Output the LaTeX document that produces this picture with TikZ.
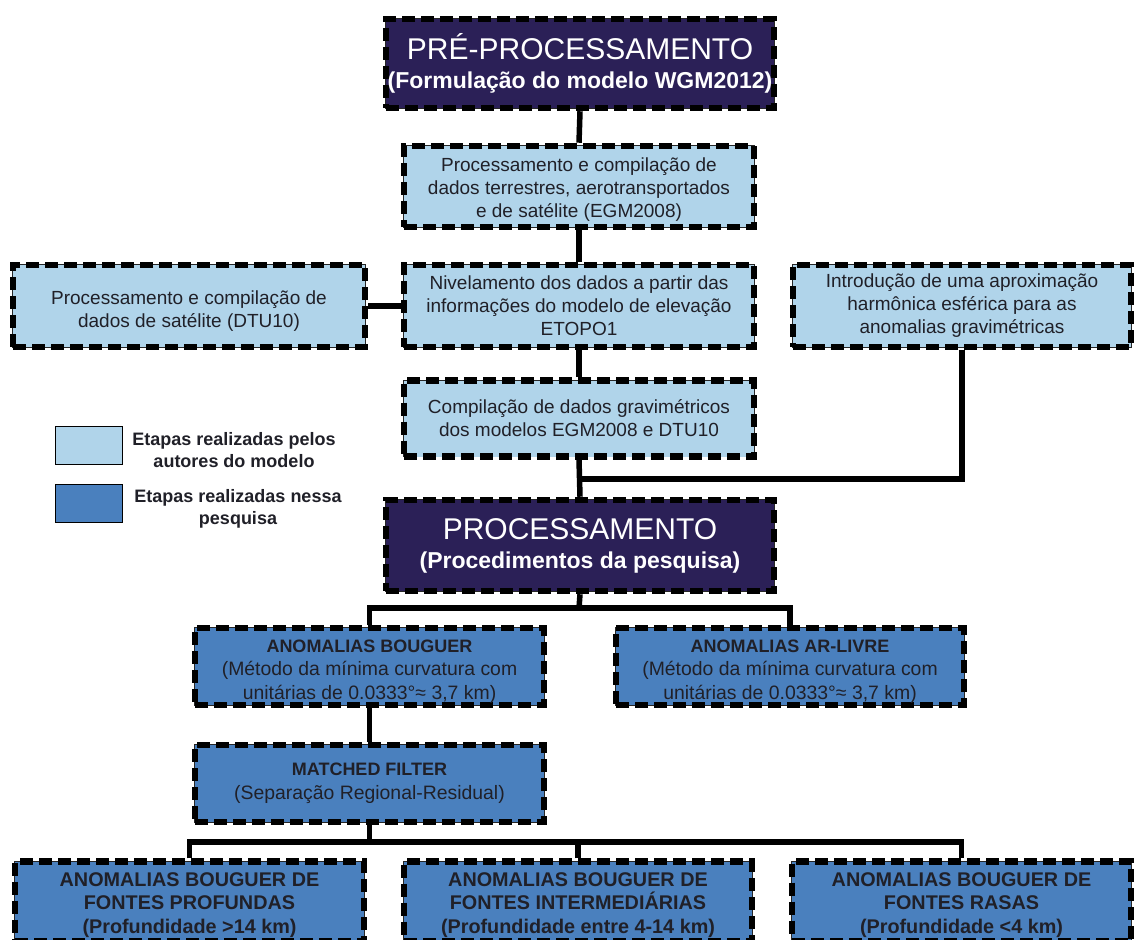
\documentclass[tikz,border=0pt]{standalone}
\usepackage{fontspec}
\setmainfont{Liberation Sans}
\definecolor{navy}{HTML}{2B2057}
\definecolor{lightb}{HTML}{B0D4EA}
\definecolor{midb}{HTML}{4A80BE}
\definecolor{txt}{HTML}{202028}
\newcommand{\topstrut}[1]{\rule{0pt}{#1}}
\begin{document}
\begin{tikzpicture}[x=1pt,y=-1pt,
  box/.style={rectangle, inner sep=0pt, align=center, line width=6.5pt, draw=black,
    dash pattern=on 13pt off 6pt,
    preaction={draw=black!85, line width=1.2pt, solid}},
  pbox/.style={box, fill=navy, text=white, minimum width=388pt},
  lbox/.style={box, fill=lightb, text=txt, font=\fontsize{19}{23}\selectfont},
  mbox/.style={box, fill=midb, text=txt, font=\fontsize{19.4}{23.5}\selectfont},
  bbox/.style={box, fill=midb, text=txt, font=\bfseries\fontsize{19.8}{23.5}\selectfont},
  conn/.style={line width=5.5pt, draw=black},
  legbox/.style={rectangle, draw=black, line width=1pt, minimum width=67pt, minimum height=38pt, inner sep=0pt},
  legtxt/.style={align=center, text=txt, font=\bfseries\fontsize{18}{22}\selectfont}
]
\useasboundingbox (0,0) rectangle (1134,939);
\fill[white] (0,0) rectangle (1134,939);

% top
\node[pbox, minimum height=89pt] (pre) at (580,63.5)
  {{\fontsize{30}{32}\selectfont PRÉ-PROCESSAMENTO}\\[11pt]{\bfseries\fontsize{23}{25}\selectfont (Formulação do modelo WGM2012)}};

\node[lbox, minimum width=350pt, minimum height=81pt] (b2) at (579,186.5)
  {\topstrut{20pt}Processamento e compilação de\\dados terrestres, aerotransportados\\e de satélite (EGM2008)};

\node[lbox, minimum width=352pt, minimum height=82pt] (b3l) at (189,306)
  {\topstrut{24pt}Processamento e compilação de\\dados de satélite (DTU10)};
\node[lbox, minimum width=350pt, minimum height=82pt] (b3m) at (579,306)
  {Nivelamento dos dados a partir das\\informações do modelo de elevação\\ETOPO1};
\node[lbox, minimum width=338pt, minimum height=82pt] (b3r) at (962,306)
  {Introdução de uma aproximação\\harmônica esférica para as\\anomalias gravimétricas};

\node[lbox, minimum width=350pt, minimum height=76pt] (b4) at (579,418.5)
  {Compilação de dados gravimétricos\\dos modelos EGM2008 e DTU10};

\node[pbox, minimum height=91pt] (proc) at (580,545.5)
  {{\fontsize{30}{32}\selectfont PROCESSAMENTO}\\[11pt]{\bfseries\fontsize{23}{25}\selectfont (Procedimentos da pesquisa)}};

\node[mbox, minimum width=349pt, minimum height=77pt] (bou) at (369.5,666.5)
  {{\bfseries\fontsize{18}{23.5}\selectfont\topstrut{22pt}ANOMALIAS BOUGUER}\\(Método da mínima curvatura com\\unitárias de 0.0333°≈ 3,7 km)};
\node[mbox, minimum width=348pt, minimum height=77pt] (arl) at (790,666.5)
  {{\bfseries\fontsize{18}{23.5}\selectfont\topstrut{22pt}ANOMALIAS AR-LIVRE}\\(Método da mínima curvatura com\\unitárias de 0.0333°≈ 3,7 km)};

\node[mbox, minimum width=349pt, minimum height=77pt] (mf) at (369.5,783.5)
  {{\bfseries\fontsize{18}{23.5}\selectfont MATCHED FILTER}\\(Separação Regional-Residual)};

\node[bbox, minimum width=349pt, minimum height=80pt] (bl) at (189.5,901.5)
  {\topstrut{21pt}ANOMALIAS BOUGUER DE\\FONTES PROFUNDAS\\(Profundidade >14 km)};
\node[bbox, minimum width=348pt, minimum height=80pt] (bm) at (578,901.5)
  {\topstrut{21pt}ANOMALIAS BOUGUER DE\\FONTES INTERMEDIÁRIAS\\(Profundidade entre 4-14 km)};
\node[bbox, minimum width=339pt, minimum height=80pt] (br) at (961.5,901.5)
  {\topstrut{21pt}ANOMALIAS BOUGUER DE\\FONTES RASAS\\(Profundidade <4 km)};

% legend
\node[legbox, fill=lightb] (lg1) at (88.5,445) {};
\node[legtxt] (lt1) at (234,450) {Etapas realizadas pelos\\autores do modelo};
\node[legbox, fill=midb] (lg2) at (88.5,503) {};
\node[legtxt] (lt2) at (238,509) {Etapas realizadas nessa\\pesquisa};

% connectors
\coordinate (j1) at (579,479);
\coordinate (s1) at (579,608);
\coordinate (s2) at (369.5,842);
\draw[conn] (pre.south) -- (b2.north);
\draw[conn] (b2.south) -- (b3m.north);
\draw[conn] (b3l.east) -- (b3m.west);
\draw[conn] (b3m.south) -- (b4.north);
\draw[conn] (b4.south) -- (proc.north);
\draw[conn] (b3r.south) |- (j1);
\draw[conn] (proc.south) -- (s1);
\draw[conn] (bou.north) |- (s1) -| (arl.north);
\draw[conn] (bou.south) -- (mf.north);
\draw[conn] (mf.south) -- (s2);
\draw[conn] (bl.north) |- (s2) -| (br.north);
\draw[conn] (bm.north) -- (bm.north |- s2);
\end{tikzpicture}
\end{document}
